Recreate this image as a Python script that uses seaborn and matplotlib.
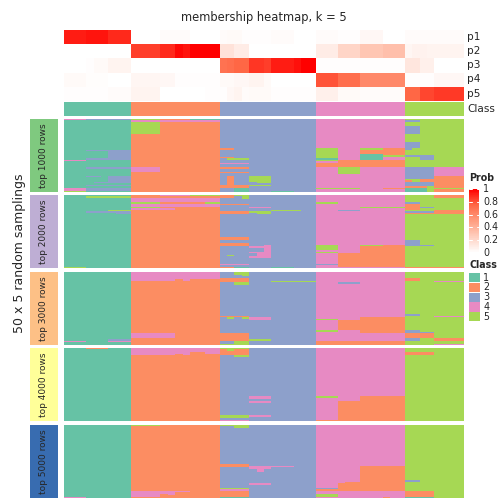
import numpy as np
import matplotlib
matplotlib.use("Agg")
import matplotlib.pyplot as plt
from matplotlib.colors import ListedColormap, LinearSegmentedColormap
import seaborn as sns

# ---------------- data ----------------
row_names = ["p1", "p2", "p3", "p4", "p5"]
class_names = ["1", "2", "3", "4", "5"]
group_names = ["top 1000 rows", "top 2000 rows", "top 3000 rows", "top 4000 rows", "top 5000 rows"]

# consensus class of each of the 54 samples (columns)
sample_class = [1]*9 + [2]*12 + [3]*13 + [4]*12 + [5]*8

p1 = [0.93,0.93,0.93, 0.95,0.95,0.95, 0.9,0.9,0.9, 0,0,0,0, 0.02,0.02,0.02,0.02, 0,0,0,0,
      0.02,0.03,0.03,0.01,0.01,0.01,0.01, 0.02,0.02,0.02,0,0,0,
      0.02,0.02,0.02, 0.01,0.01,0.01, 0.04,0.04,0.04, 0,0,0,
      0.02,0.02,0.02,0.02,0.02,0.02,0.02,0.02]
p2 = [0,0,0, 0,0,0, 0,0,0, 0.85,0.85,0.85,0.85, 0.9,0.9, 0.98,0.95, 1,1,1,1,
      0.15,0.15,0.1,0.1, 0,0,0,0,0,0,0,0,0,
      0.1,0.1,0.1, 0.22,0.22,0.22, 0.3,0.3,0.3, 0.33,0.33,0.33,
      0.05,0.07,0.07,0.06,0.06,0.06,0.06,0.06]
p3 = [0,0,0, 0.01,0.03,0.03, 0.06,0.06,0.06, 0,0,0,0,0,0,0,0,0,0,0,0,
      0.7,0.72,0.75,0.75, 0.87,0.87,0.85, 0.93,0.93,0.93, 0.96,1,1,
      0.01,0.01,0.01,0.01,0.01,0.01,0.01,0.01,0.01,0.01,0.01,0.01,
      0.13,0.13,0.08,0.08,0,0,0,0]
p4 = [0.03,0.03,0.03, 0.015,0.015,0.015, 0,0,0, 0.05,0.05,0.05,0.05, 0.04,0.04,0.01,0.01,0.01,0.01,0.01,0.01,
      0.03,0.03,0.04,0.04,0.06,0.06,0.03, 0,0,0,0,0,0,
      0.8,0.8,0.8, 0.72,0.72,0.72, 0.6,0.6,0.6,0.6,0.6,0.6,
      0.01,0.01,0.01,0.01,0.04,0.04,0.04,0.04]
p5 = [0.01,0.01,0.01, 0.01,0.01,0.01, 0.02,0.02,0.02, 0.06,0.06,0.06,0.06, 0,0,0,0,0,0,0.01,0.01,
      0.01,0.04,0.06,0.02,0.03,0.03,0.03, 0.01,0.01,0.01,0.01,0.01,0.01,
      0.08,0.08,0.08, 0.03,0.03,0.03, 0.02,0.02,0.02,0.02,0.02,0.02,
      0.75,0.75,0.83,0.83,0.86,0.86,0.86,0.86]

# deviations from consensus in each random-sampling block:
# (row_start, row_end, col_start, col_end, class)
patches_1000 = [
    (0,1,0,3,4),(0,1,3,9,3),(0,1,9,13,5),(0,1,17,21,1),(1,2,13,21,4),(1,2,9,13,4),(2,10,9,13,5),
    (21,22,3,9,3),(21,27,6,9,3),(27,28,3,9,3),(28,29,0,3,4),(33,34,3,9,3),(39,40,3,5,3),
    (39,44,6,9,3),(43,44,4,6,3),(45,46,3,9,3),(47,49,3,9,3),(49,50,3,9,1),(47,49,0,3,4),
    (49,50,0,3,5),(33,36,9,13,4),
    (20,21,21,23,2),(26,27,21,23,2),(27,28,22,25,5),(30,31,21,25,4),(33,34,21,25,2),
    (36,37,21,25,2),(39,46,22,23,2),(39,43,25,28,5),(43,44,26,28,5),(45,46,25,28,5),
    (45,47,21,25,2),(47,50,23,25,1),(49,50,28,31,1),
    (20,21,34,37,5),(21,27,34,37,5),(27,28,34,37,1),(28,29,34,37,5),(30,33,34,46,2),
    (28,33,37,40,2),(33,38,37,40,5),(20,21,40,43,5),(21,24,40,43,2),(24,29,40,43,1),
    (20,26,43,46,2),(25,26,43,46,5),(28,30,40,46,2),(47,48,34,40,5),(47,48,43,46,2),
    (1,2,46,48,3),(5,10,46,48,3),(16,20,46,48,3),(20,21,46,47,3),(25,28,48,50,3),
    (25,26,46,48,3),(33,41,46,50,3),(33,39,50,54,4),(39,47,50,54,2),(41,43,48,50,2),
    (42,43,46,47,2),(43,46,46,50,3),(46,47,46,49,2),(47,48,49,54,5),(47,50,46,49,1),
    (48,50,50,54,2),
]
patches_2000 = [
    (1,2,3,9,5),(10,11,6,9,5),(11,12,3,9,3),(12,13,7,9,3),(49,50,0,3,5),
    (0,1,13,17,4),(0,1,17,21,5),(2,5,9,21,4),(5,6,9,13,5),(5,6,19,21,5),(6,8,9,21,4),
    (8,9,9,13,5),(9,10,9,15,4),
    (0,2,21,23,2),(0,1,23,25,5),(1,3,24,25,5),(6,7,21,25,2),(11,12,21,25,2),(12,13,21,25,2),
    (8,9,25,28,4),(11,12,25,26,5),(11,13,26,28,5),(10,11,28,32,5),(29,31,21,25,2),
    (33,35,21,25,2),(35,36,25,27,4),(34,39,27,28,4),(39,40,25,28,4),(40,43,26,28,4),
    (42,43,25,26,4),(41,42,22,23,5),(47,48,21,25,4),(49,50,21,23,2),(49,50,23,25,1),
    (49,50,28,31,1),
    (5,6,34,37,5),(10,11,37,40,3),(8,9,40,46,5),(34,38,34,37,5),(39,40,34,37,5),
    (47,48,34,37,3),(40,49,37,40,2),(34,35,40,43,5),(35,49,40,46,2),(34,35,43,46,2),
    (0,2,50,54,2),(5,6,46,48,3),(6,8,46,48,2),(8,9,48,50,3),(8,10,46,48,2),
    (11,12,46,50,3),(10,13,50,54,2),(12,13,46,50,2),(31,35,46,48,3),(34,35,48,50,3),
    (49,50,46,54,2),
]
patches_3000 = [
    (47,48,0,3,4),(46,47,6,9,3),(47,48,6,9,4),
    (0,6,9,15,4),(0,5,15,16,4),(0,6,16,17,4),(0,5,17,21,4),(42,45,9,15,4),
    (4,7,21,23,2),(0,2,23,24,5),(0,3,24,25,5),(4,7,23,25,2),(7,9,23,25,5),(6,7,28,34,5),
    (30,31,21,25,2),(31,32,22,23,5),(31,32,24,25,5),(31,33,25,28,4),(42,47,21,25,2),
    (47,50,23,25,5),(49,50,21,23,5),(46,47,25,28,5),
    (7,8,37,40,3),(32,33,34,37,5),(40,41,34,37,5),(33,40,37,40,2),(31,42,40,46,2),
    (47,50,34,46,2),
    (4,6,46,48,2),(6,7,50,54,4),(29,30,46,48,3),(30,31,50,54,4),(40,42,46,48,3),
    (41,42,48,50,3),(42,45,46,50,2),(45,47,46,48,3),(45,47,50,54,2),(49,50,50,54,4),
]
patches_4000 = [
    (0,1,3,6,2),
    (0,5,9,15,4),(0,4,15,16,4),(0,5,16,17,4),(0,3,17,19,4),(0,4,19,21,4),
    (0,1,21,25,5),(1,5,21,25,2),(1,2,22,23,5),(5,6,23,25,5),(33,35,25,28,4),
    (36,38,25,28,4),(46,47,25,28,4),(46,48,21,25,5),(49,50,21,25,4),
    (33,34,34,37,5),(49,50,34,37,2),(36,50,37,40,2),(33,50,40,46,2),
    (3,5,46,50,2),
]
patches_5000 = [
    (49,50,0,3,4),
    (0,1,9,13,5),(45,49,9,13,4),(45,47,13,14,4),(45,48,14,15,4),(45,46,15,17,4),
    (0,1,21,23,5),(0,2,23,25,5),(27,29,21,25,2),(28,30,25,28,4),(30,32,26,27,4),
    (28,29,28,31,4),(40,41,25,28,4),(43,44,21,25,5),(44,45,21,25,4),(45,49,21,25,2),
    (49,50,21,25,1),
    (43,44,34,37,3),(44,45,34,37,2),(47,49,34,37,5),(40,45,37,38,2),(39,45,38,40,2),
    (28,45,40,46,2),(49,50,43,44,2),
    (38,39,46,48,3),(45,49,46,50,2),(49,50,46,50,1),
]
group_patches = [patches_1000, patches_2000, patches_3000, patches_4000, patches_5000]

# ---------------- styling ----------------
set2 = ["#66C2A5", "#FC8D62", "#8DA0CB", "#E78AC3", "#A6D854"]
accent = ["#7FC97F", "#BEAED4", "#FDC086", "#FFFF99", "#386CB0"]
class_cmap = ListedColormap(set2)
prob_cmap = LinearSegmentedColormap.from_list(
    "prob", [(0, "#FFFFFF"), (0.25, "#FFCFBF"), (0.5, "#FF9E81"), (0.75, "#FF6846"), (1, "#FF0000")])

sns.set_theme(style="white")
plt.rcParams["font.family"] = ["DejaVu Sans"]

W = H = 504
fig = plt.figure(figsize=(7, 7), dpi=72)


def add_ax(x0, y0, x1, y1):
    ax = fig.add_axes([x0 / W, 1 - y1 / H, (x1 - x0) / W, (y1 - y0) / H])
    return ax


def ftext(x, y, s, **kw):
    fig.text(x / W, 1 - y / H, s, **kw)


X0, X1 = 64, 464

# membership heatmap
mem = np.array([p1, p2, p3, p4, p5])
ax = add_ax(X0, 30, X1, 101)
sns.heatmap(mem, cmap=prob_cmap, vmin=0, vmax=1, cbar=False, ax=ax,
            xticklabels=False, yticklabels=False)
ax.set_xlabel(""); ax.set_ylabel("")

# class bar
ax = add_ax(X0, 102, X1, 116)
sns.heatmap(np.array([sample_class]), cmap=class_cmap, vmin=0.5, vmax=5.5, cbar=False,
            ax=ax, xticklabels=False, yticklabels=False)

row_y = [37, 51, 65, 79.5, 94]
for name, y in zip(row_names, row_y):
    ftext(467, y, name, fontsize=10.5, va="center", ha="left")
ftext(467, 109, "Class", fontsize=10.5, va="center", ha="left")

ftext(264, 18, "membership heatmap, k = 5", fontsize=11.5, ha="center", va="center")

# random sampling blocks
group_y = [(119, 192), (195, 268), (272, 345), (348, 421), (425, 498)]
for gi, ((y0, y1), patches) in enumerate(zip(group_y, group_patches)):
    mat = np.tile(np.array(sample_class), (50, 1))
    for (r0, r1, c0, c1, k) in patches:
        mat[r0:r1, c0:c1] = k
    ax = add_ax(X0, y0, X1, y1)
    sns.heatmap(mat, cmap=class_cmap, vmin=0.5, vmax=5.5, cbar=False, ax=ax,
                xticklabels=False, yticklabels=False)
    lab = add_ax(30, y0, 58, y1)
    lab.set_facecolor(accent[gi])
    lab.set_xticks([]); lab.set_yticks([])
    for s in lab.spines.values():
        s.set_visible(False)
    lab.text(0.5, 0.5, group_names[gi], rotation=90, ha="center", va="center",
             fontsize=9, transform=lab.transAxes)

ftext(20, 253, "50 x 5 random samplings", rotation=90, fontsize=12.5, ha="center", va="center")

# Prob legend
ftext(469, 178, "Prob", fontsize=9.5, fontweight="bold", ha="left", va="center")
cax = add_ax(469, 189, 479, 253)
grad = np.linspace(1, 0, 100).reshape(-1, 1)
sns.heatmap(grad, cmap=prob_cmap, vmin=0, vmax=1, cbar=False, ax=cax,
            xticklabels=False, yticklabels=False)
for i, v in enumerate([1, 0.8, 0.6, 0.4, 0.2, 0]):
    yy = 189 + (253 - 189) * (1 - v)
    ftext(483, yy, f"{v:g}", fontsize=9.5, ha="left", va="center")
    frac = 1 - v
    cax.plot([0, 0.25], [frac * 100, frac * 100], color="white", lw=1)
    cax.plot([0.75, 1], [frac * 100, frac * 100], color="white", lw=1)

# Class legend
ftext(469, 265, "Class", fontsize=9.5, fontweight="bold", ha="left", va="center")
for i, (c, name) in enumerate(zip(set2, class_names)):
    ya = 273 + i * 9.8
    bax = add_ax(469, ya, 480, ya + 9.3)
    sns.heatmap(np.array([[i + 1]]), cmap=class_cmap, vmin=0.5, vmax=5.5, cbar=False,
                ax=bax, xticklabels=False, yticklabels=False)
    ftext(483, ya + 4.7, name, fontsize=9.5, ha="left", va="center")

fig.savefig("out.png", dpi=72)
